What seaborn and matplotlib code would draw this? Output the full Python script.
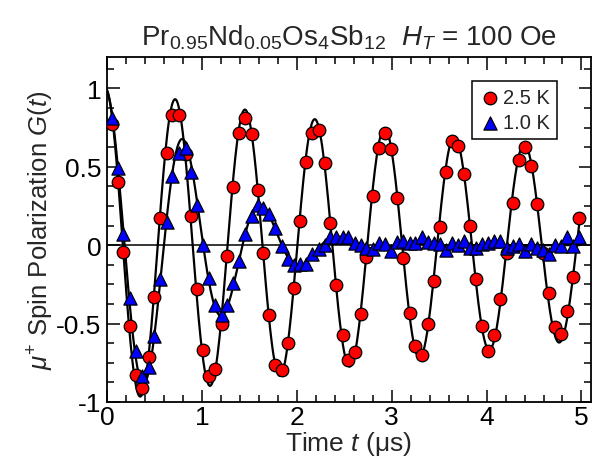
import numpy as np
import pandas as pd
import seaborn as sns
import matplotlib.pyplot as plt
from matplotlib.ticker import MultipleLocator

# time bins (us), same for both temperatures
time_us = [0.049, 0.119, 0.172, 0.242, 0.305, 0.365, 0.439, 0.498, 0.558, 0.628,
           0.681, 0.754, 0.828, 0.881, 0.947, 1.014, 1.074, 1.140, 1.207, 1.260,
           1.330, 1.393, 1.453, 1.523, 1.593, 1.649, 1.705, 1.768, 1.846, 1.909,
           1.972, 2.032, 2.102, 2.161, 2.232, 2.295, 2.355, 2.418, 2.488, 2.540,
           2.611, 2.674, 2.733, 2.804, 2.863, 2.930, 2.997, 3.056, 3.119, 3.189,
           3.246, 3.316, 3.382, 3.442, 3.512, 3.576, 3.632, 3.698, 3.761, 3.828,
           3.891, 3.951, 4.014, 4.080, 4.144, 4.214, 4.277, 4.340, 4.403, 4.470,
           4.530, 4.593, 4.663, 4.723, 4.786, 4.849, 4.912, 4.979]

# 2.5 K asymmetry
g_25K = [0.771, 0.401, -0.045, -0.514, -0.826, -0.911, -0.716, -0.333, 0.172, 0.590,
         0.830, 0.830, 0.580, 0.183, -0.278, -0.671, -0.836, -0.788, -0.503, -0.066,
         0.374, 0.713, 0.813, 0.707, 0.352, -0.051, -0.444, -0.762, -0.794, -0.624,
         -0.270, 0.151, 0.533, 0.718, 0.735, 0.522, 0.144, -0.257, -0.571, -0.735,
         -0.684, -0.437, -0.076, 0.314, 0.622, 0.713, 0.613, 0.299, -0.079, -0.433,
         -0.645, -0.699, -0.503, -0.231, 0.113, 0.465, 0.664, 0.633, 0.452, 0.123,
         -0.217, -0.518, -0.673, -0.575, -0.342, -0.051, 0.272, 0.543, 0.624, 0.505,
         0.263, -0.051, -0.306, -0.524, -0.567, -0.422, -0.204, 0.172]

# 1.0 K asymmetry
g_10K = [0.809, 0.495, 0.072, -0.338, -0.673, -0.836, -0.779, -0.578, -0.214, 0.146,
         0.442, 0.590, 0.618, 0.469, 0.257, -0.002, -0.210, -0.380, -0.444, -0.380,
         -0.242, -0.104, 0.070, 0.187, 0.257, 0.240, 0.200, 0.108, -0.004, -0.087,
         -0.125, -0.121, -0.121, -0.057, -0.025, 0.002, 0.049, 0.049, 0.049, 0.049,
         0.017, 0.002, -0.015, -0.025, 0.017, 0.006, -0.040, 0.023, 0.028, 0.017,
         0.017, 0.055, 0.023, 0.013, 0.006, -0.030, 0.017, 0.002, 0.028, -0.015,
         -0.015, 0.006, 0.017, 0.028, 0.028, -0.015, -0.008, 0.006, -0.040, 0.006,
         -0.015, -0.030, -0.057, 0.002, -0.008, 0.049, -0.008, 0.055]

# fit curves: amp * exp(-lam t - sigma2 t^2 / 2) * cos(2 pi f t + phase)
fit_25K = dict(amp=1.0, freq=1.359, phase=0.145, lam=0.100, sigma2=0.0)
fit_10K = dict(amp=1.0, freq=1.207, phase=0.167, lam=0.152, sigma2=0.839)


def fit_curve(t, p):
    return p["amp"] * np.exp(-p["lam"] * t - p["sigma2"] * t ** 2 / 2) * np.cos(
        2 * np.pi * p["freq"] * t + p["phase"])


sns.set_theme(style="ticks")
plt.rcParams["font.family"] = ["Liberation Sans", "DejaVu Sans"]
plt.rcParams["mathtext.fontset"] = "custom"
plt.rcParams["mathtext.rm"] = "Liberation Sans"
plt.rcParams["mathtext.it"] = "Liberation Sans:italic"
plt.rcParams["axes.unicode_minus"] = False

df = pd.DataFrame({"t": time_us, "g25": g_25K, "g10": g_10K})
t_fit = np.linspace(0, 4.98, 800)

fig = plt.figure(figsize=(6.1, 4.64), dpi=100)
ax = fig.add_axes([0.1754, 0.1315, 0.7934, 0.7435])

sns.lineplot(x=t_fit, y=fit_curve(t_fit, fit_25K), color="black", lw=1.6, ax=ax, zorder=2)
sns.lineplot(x=t_fit, y=fit_curve(t_fit, fit_10K), color="black", lw=1.6, ax=ax, zorder=2)
sns.scatterplot(data=df, x="t", y="g25", marker="o", s=82, color="#ff0000",
                edgecolor="black", linewidth=0.9, label="2.5 K", ax=ax, zorder=3)
sns.scatterplot(data=df, x="t", y="g10", marker="^", s=90, color="#0000ff",
                edgecolor="black", linewidth=0.9, label="1.0 K", ax=ax, zorder=4)

ax.set_xlim(0, 5.1)
ax.set_ylim(-1, 1.2)
ax.set_xticks([0, 1, 2, 3, 4, 5])
ax.set_xticklabels(["0", "1", "2", "3", "4", "5"])
ax.set_yticks([-1, -0.5, 0, 0.5, 1])
ax.set_yticklabels(["-1", "-0.5", "0", "0.5", "1"])
ax.xaxis.set_minor_locator(MultipleLocator(0.2))
ax.yaxis.set_minor_locator(MultipleLocator(0.125))
ax.tick_params(which="both", direction="in", top=True, right=True, width=1.1,
               colors="black", labelsize=19)
ax.tick_params(which="major", length=9)
ax.tick_params(which="minor", length=5)
ax.tick_params(axis="x", pad=2)
ax.tick_params(axis="y", pad=4)
for s in ax.spines.values():
    s.set_linewidth(1.3)
    s.set_color("black")
ax.axhline(0, color="black", lw=1.1, zorder=1)

ax.set_xlabel("Time $t$ (μs)", fontsize=19, labelpad=0)
ax.set_ylabel(r"$\mu^{+}$ Spin Polarization $G(t)$", fontsize=18.5, labelpad=0)
ax.set_title(r"Pr$_{0.95}$Nd$_{0.05}$Os$_4$Sb$_{12}$  $H_T$ = 100 Oe", fontsize=20, pad=9)

leg = ax.legend(loc="upper right", bbox_to_anchor=(0.93, 0.93), fontsize=14.5,
                frameon=True, fancybox=False, edgecolor="black", framealpha=1,
                handletextpad=0.1, borderpad=0.35, labelspacing=0.3, handlelength=1.1,
                borderaxespad=0)
leg.get_frame().set_linewidth(1.1)

fig.savefig("out.png", dpi=100)
